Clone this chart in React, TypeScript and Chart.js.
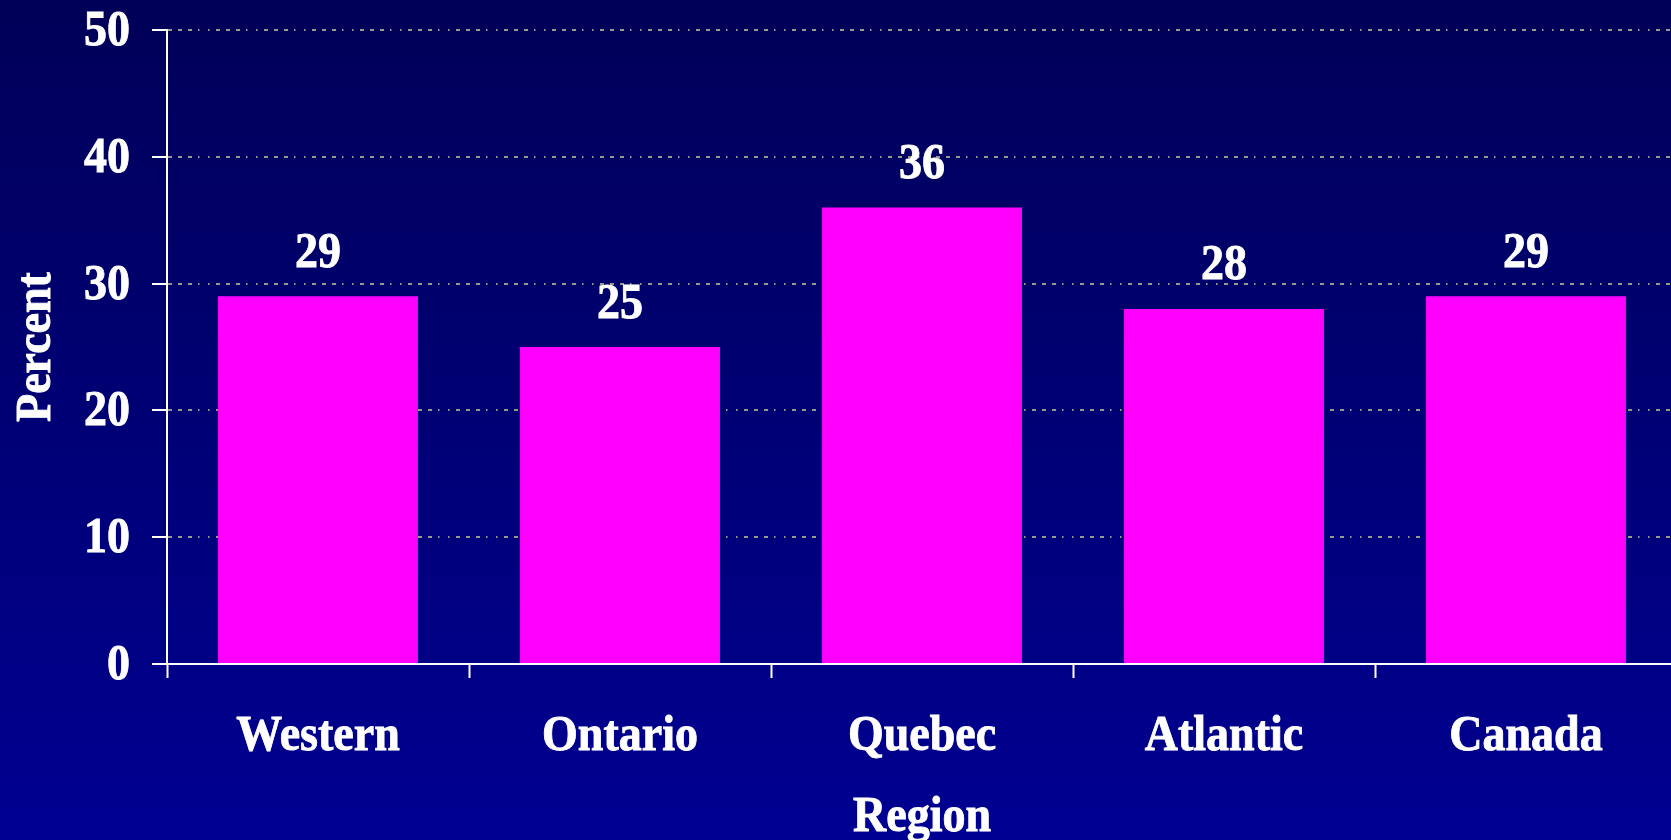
import React, { useEffect, useRef } from "react";
import { Chart, registerables } from "chart.js";

Chart.register(...registerables);

const categories = ["Western", "Ontario", "Quebec", "Atlantic", "Canada"];
const percentValues = [29, 25, 36, 28, 29];
const yTicks = [0, 10, 20, 30, 40, 50];
const xTitle = "Region";
const yTitle = "Percent";

const FONT = "'Liberation Serif', 'Times New Roman', serif";
const TEXT_FONT = `bold 46px ${FONT}`;
const STRETCH = 1.1;
const CANVAS_W = 1677;
const CANVAS_H = 840;

function stretchedText(ctx: any, text: string, x: number, y: number, align: string, rotate = 0) {
  ctx.save();
  ctx.translate(x, y);
  if (rotate) ctx.rotate(rotate);
  ctx.scale(1, STRETCH);
  ctx.textAlign = align;
  ctx.textBaseline = "alphabetic";
  ctx.fillText(text, 0, 0);
  ctx.lineWidth = 0.8;
  ctx.strokeStyle = "#ffffff";
  ctx.strokeText(text, 0, 0);
  ctx.restore();
}

const bgPlugin = {
  id: "bgGradient",
  beforeDraw(chart: any) {
    const { ctx, width, height } = chart;
    const g = ctx.createLinearGradient(0, 0, 0, height);
    g.addColorStop(0, "#000058");
    g.addColorStop(1, "#000092");
    ctx.save();
    ctx.fillStyle = g;
    ctx.fillRect(0, 0, width, height);
    ctx.restore();
  },
};

const textPlugin = {
  id: "stretchedTexts",
  afterDraw(chart: any) {
    const { ctx, chartArea } = chart;
    const xScale = chart.scales.x;
    const yScale = chart.scales.y;
    ctx.save();
    ctx.fillStyle = "#ffffff";
    ctx.font = TEXT_FONT;
    yTicks.forEach((v) => {
      stretchedText(ctx, String(v), chartArea.left - 37, yScale.getPixelForValue(v) + 15, "right");
    });
    categories.forEach((c, i) => {
      stretchedText(ctx, c, xScale.getPixelForValue(i), chartArea.bottom + 86, "center");
    });
    const meta = chart.getDatasetMeta(0);
    meta.data.forEach((bar: any, i: number) => {
      stretchedText(ctx, String(percentValues[i]), bar.x, bar.y - 29.5, "center");
    });
    stretchedText(ctx, xTitle, (chartArea.left + chartArea.right) / 2, chartArea.bottom + 167, "center");
    stretchedText(ctx, yTitle, 50, (chartArea.top + chartArea.bottom) / 2, "center", -Math.PI / 2);
    ctx.restore();
  },
};

export default function App() {
  const ref = useRef<HTMLCanvasElement | null>(null);

  useEffect(() => {
    document.body.style.margin = "0";
    document.body.style.overflow = "hidden";
    const canvas = ref.current!;
    const chart = new Chart(canvas, {
      type: "bar",
      data: {
        labels: categories,
        datasets: [
          {
            data: percentValues,
            backgroundColor: "#ff00ff",
            borderWidth: 0,
            barPercentage: 0.662,
            categoryPercentage: 1,
          },
        ],
      },
      plugins: [bgPlugin, textPlugin],
      options: {
        animation: false,
        responsive: false,
        maintainAspectRatio: false,
        layout: { padding: 0 },
        plugins: {
          legend: { display: false },
          tooltip: { enabled: false },
        },
        scales: {
          x: {
            offset: true,
            afterFit(scale: any) {
              scale.height = 176;
              scale.paddingLeft = 0;
              scale.paddingRight = 0;
            },
            grid: {
              offset: true,
              drawOnChartArea: false,
              drawTicks: true,
              tickLength: 14,
              tickColor: "#ffffff",
              tickWidth: 2,
            },
            border: { display: true, color: "#ffffff", width: 2 },
            ticks: {
              color: "rgba(0,0,0,0)",
              font: { family: FONT, size: 46, weight: "bold" },
              maxRotation: 0,
              autoSkip: false,
            },
          },
          y: {
            min: 0,
            max: 50,
            afterBuildTicks(axis: any) {
              axis.ticks = yTicks.map((v) => ({ value: v }));
            },
            afterFit(scale: any) {
              scale.width = 167;
              scale.paddingTop = 30;
              scale.paddingBottom = 0;
            },
            grid: {
              color: "#999988",
              lineWidth: 2,
              drawTicks: true,
              tickLength: 15,
              tickColor: "#ffffff",
              tickWidth: 2,
              tickBorderDash: [],
            },
            border: {
              display: true,
              color: "#ffffff",
              width: 2,
              dash: [4, 6, 4, 6, 4, 6, 1.5, 8.5, 1.5, 6.5],
            },
            ticks: {
              color: "rgba(0,0,0,0)",
              font: { family: FONT, size: 46, weight: "bold" },
            },
          },
        },
      } as any,
    });
    return () => chart.destroy();
  }, []);

  return (
    <div style={{ width: CANVAS_W, height: CANVAS_H, overflow: "hidden" }}>
      <canvas ref={ref} width={CANVAS_W} height={CANVAS_H} style={{ display: "block" }} />
    </div>
  );
}
